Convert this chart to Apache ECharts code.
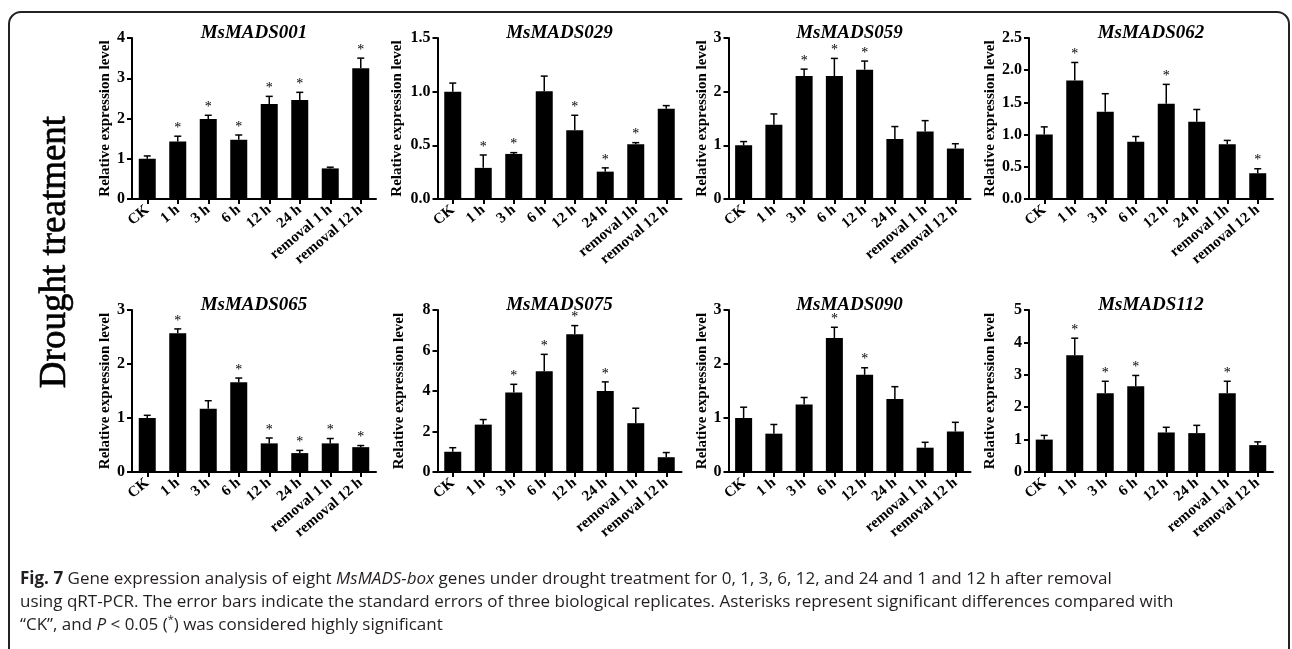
<!DOCTYPE html>
<html><head><meta charset="utf-8">
<script src="https://cdn.jsdelivr.net/npm/echarts@6/dist/echarts.min.js"></script>
<style>html,body{margin:0;padding:0;background:#fff}#c{width:1292px;height:649px}</style>
</head><body><div id="c"></div>
<script>
// ---------- data ----------
const catsA = ['CK','1 h','3 h','6 h','12 h','24 h','removal 1 h','removal 12 h'];
const catsB = ['CK','1 h','3 h','6 h','12 h','24 h','removal 1h','removal 12 h'];
const geneNames = ['MsMADS001','MsMADS029','MsMADS059','MsMADS062','MsMADS065','MsMADS075','MsMADS090','MsMADS112'];

const mads001    = [1.00,1.43,1.99,1.47,2.36,2.46,0.76,3.25];
const mads001Err = [0.07,0.13,0.09,0.12,0.19,0.19,0.03,0.25];
const mads001Sig = [0,1,1,1,1,1,0,1];

const mads029    = [1.00,0.29,0.42,1.005,0.64,0.255,0.51,0.84];
const mads029Err = [0.08,0.12,0.012,0.14,0.14,0.035,0.015,0.03];
const mads029Sig = [0,1,1,0,1,1,1,0];

const mads059    = [1.00,1.385,2.29,2.29,2.41,1.12,1.26,0.94];
const mads059Err = [0.07,0.20,0.13,0.33,0.16,0.23,0.20,0.09];
const mads059Sig = [0,0,1,1,1,0,0,0];

const mads062    = [1.00,1.84,1.355,0.89,1.48,1.20,0.85,0.40];
const mads062Err = [0.12,0.28,0.28,0.08,0.30,0.19,0.06,0.07];
const mads062Sig = [0,1,0,0,1,0,0,1];

const mads065    = [1.00,2.57,1.17,1.66,0.53,0.35,0.53,0.46];
const mads065Err = [0.05,0.08,0.15,0.08,0.10,0.05,0.09,0.03];
const mads065Sig = [0,1,0,1,1,1,1,1];

const mads075    = [1.00,2.34,3.93,4.98,6.80,4.00,2.41,0.73];
const mads075Err = [0.20,0.25,0.40,0.83,0.43,0.45,0.74,0.23];
const mads075Sig = [0,0,1,1,1,1,0,0];

const mads090    = [1.00,0.71,1.25,2.48,1.80,1.35,0.45,0.75];
const mads090Err = [0.20,0.17,0.13,0.20,0.13,0.23,0.10,0.17];
const mads090Sig = [0,0,0,1,1,0,0,0];

const mads112    = [1.00,3.60,2.43,2.65,1.22,1.20,2.43,0.83];
const mads112Err = [0.13,0.53,0.37,0.33,0.16,0.24,0.37,0.10];
const mads112Sig = [0,1,1,1,0,0,1,0];

const yMax  = [4,1.5,3,2.5,3,8,3,5];
const yStep = [1,0.5,1,0.5,1,2,1,1];
const yDec  = [0,1,0,1,0,0,0,0];
const yName = 'Relative expression level';
const sideLabel = 'Drought treatment';
const caption1 = ['Fig. 7',' Gene expression analysis of eight ','MsMADS-box',' genes under drought treatment for 0, 1, 3, 6, 12, and 24 and 1 and 12 h after removal'];
const caption2 = 'using qRT-PCR. The error bars indicate the standard errors of three biological replicates. Asterisks represent significant differences compared with';
const caption3 = ['\u201cCK\u201d, and ','P',' < 0.05 (','*',') was considered highly significant'];

const values = [mads001,mads029,mads059,mads062,mads065,mads075,mads090,mads112];
const errs   = [mads001Err,mads029Err,mads059Err,mads062Err,mads065Err,mads075Err,mads090Err,mads112Err];
const sigs   = [mads001Sig,mads029Sig,mads059Sig,mads062Sig,mads065Sig,mads075Sig,mads090Sig,mads112Sig];
const cats   = [catsA,catsB,catsA,catsB,catsA,catsA,catsA,catsA];

// ---------- layout ----------
const colLeft  = [132, 437.5, 728.5, 1029];
const colWidth = [244, 244, 242, 244];
const rowTop   = [38, 310];
const rowH     = [161, 162];
const nameGaps = [19, 33, 14, 25, 19, 31, 14, 31];
const SERIF = '"Liberation Serif","Times New Roman",serif';

const grids = [], xAxes = [], yAxes = [], series = [], graphics = [];
for (let k = 0; k < 8; k++) {
  const r = Math.floor(k / 4), c = k % 4;
  grids.push({left: colLeft[c], top: rowTop[r], width: colWidth[c], height: rowH[r], containLabel: false, outerBoundsMode: 'none'});
  xAxes.push({
    type: 'category', gridIndex: k, data: cats[k], boundaryGap: true,
    axisLine: {show: true, lineStyle: {color: '#000', width: 2}},
    axisTick: {show: true, alignWithLabel: true, length: 5, lineStyle: {color: '#000', width: 2}},
    axisLabel: {interval: 0, rotate: 40, margin: 9, color: '#000', fontFamily: SERIF, fontWeight: 'bold', fontSize: 15},
    splitLine: {show: false}
  });
  const dec = yDec[k];
  yAxes.push({
    type: 'value', gridIndex: k, min: 0, max: yMax[k], interval: yStep[k],
    name: yName, nameLocation: 'middle', nameGap: nameGaps[k],
    nameTextStyle: {color: '#000', fontFamily: SERIF, fontWeight: 'bold', fontSize: 15},
    axisLine: {show: true, lineStyle: {color: '#000', width: 2}},
    axisTick: {show: true, length: 5, lineStyle: {color: '#000', width: 2}},
    axisLabel: {margin: 7, color: '#000', fontFamily: SERIF, fontWeight: 'bold', fontSize: 16,
      formatter: v => Number(v).toFixed(dec)},
    splitLine: {show: false}
  });
  series.push({
    type: 'bar', xAxisIndex: k, yAxisIndex: k, data: values[k], barWidth: 17,
    itemStyle: {color: '#000'}, silent: true, animation: false
  });
  series.push({
    type: 'custom', xAxisIndex: k, yAxisIndex: k, clip: false, silent: true, animation: false, z: 5,
    encode: {x: 0, y: 1},
    data: values[k].map((v, i) => [i, v, errs[k][i], sigs[k][i]]),
    renderItem: function (params, api) {
      const i = api.value(0), v = api.value(1), e = api.value(2), s = api.value(3);
      const p0 = api.coord([i, v]);
      const p1 = api.coord([i, v + e]);
      const ch = [
        {type: 'line', shape: {x1: p0[0], y1: p0[1], x2: p1[0], y2: p1[1]}, style: {stroke: '#000', lineWidth: 1.5}},
        {type: 'line', shape: {x1: p1[0] - 3.5, y1: p1[1], x2: p1[0] + 3.5, y2: p1[1]}, style: {stroke: '#000', lineWidth: 1.5}}
      ];
      if (s) ch.push({type: 'text', x: p1[0], y: p1[1] - 1,
        style: {text: '*', font: '14px ' + SERIF, fill: '#000', align: 'center', verticalAlign: 'bottom'}});
      return {type: 'group', children: ch};
    }
  });
  graphics.push({
    type: 'text', x: colLeft[c] + colWidth[c] / 2, y: rowTop[r] - 5,
    style: {text: geneNames[k], font: 'italic bold 19px ' + SERIF, fill: '#000', align: 'center', verticalAlign: 'middle'}
  });
}

// frame
graphics.push({type: 'rect', shape: {x: 9, y: 12, width: 1280, height: 660, r: 12},
  style: {fill: 'none', stroke: '#222', lineWidth: 2}});
// side label
graphics.push({type: 'text', x: 55, y: 252, rotation: Math.PI / 2,
  style: {text: sideLabel, font: '37px ' + SERIF, fill: '#000', stroke: '#000', lineWidth: 0.6, align: 'center', verticalAlign: 'middle'}});
// caption
const CAP = '"Open Sans",sans-serif';
const CF = 17;
graphics.push({type: 'text', x: 20, y: 579, style: {
  text: '{b|' + caption1[0] + '}{n|' + caption1[1] + '}{i|' + caption1[2] + '}{n|' + caption1[3] + '}',
  verticalAlign: 'middle', rich: {
    b: {font: 'bold ' + CF + 'px ' + CAP, fill: '#231f20'},
    n: {font: CF + 'px ' + CAP, fill: '#231f20'},
    i: {font: 'italic ' + CF + 'px ' + CAP, fill: '#231f20'}
  }}});
graphics.push({type: 'text', x: 20, y: 602, style: {text: caption2, font: CF + 'px ' + CAP, fill: '#231f20', verticalAlign: 'middle'}});
graphics.push({type: 'text', x: 20, y: 625, style: {
  text: '{n|' + caption3[0] + '}{i|' + caption3[1] + '}{n|' + caption3[2] + '}{s|' + caption3[3] + '}{n|' + caption3[4] + '}',
  verticalAlign: 'middle', rich: {
    n: {font: CF + 'px ' + CAP, fill: '#231f20', lineHeight: 22},
    i: {font: 'italic ' + CF + 'px ' + CAP, fill: '#231f20', lineHeight: 22},
    s: {font: '11px ' + CAP, fill: '#231f20', verticalAlign: 'top', lineHeight: 22}
  }}});

const chart = echarts.init(document.getElementById('c'), null, {renderer: 'canvas'});
chart.setOption({
  animation: false,
  backgroundColor: '#fff',
  grid: grids, xAxis: xAxes, yAxis: yAxes, series: series,
  graphic: {elements: graphics}
});
</script></body></html>
